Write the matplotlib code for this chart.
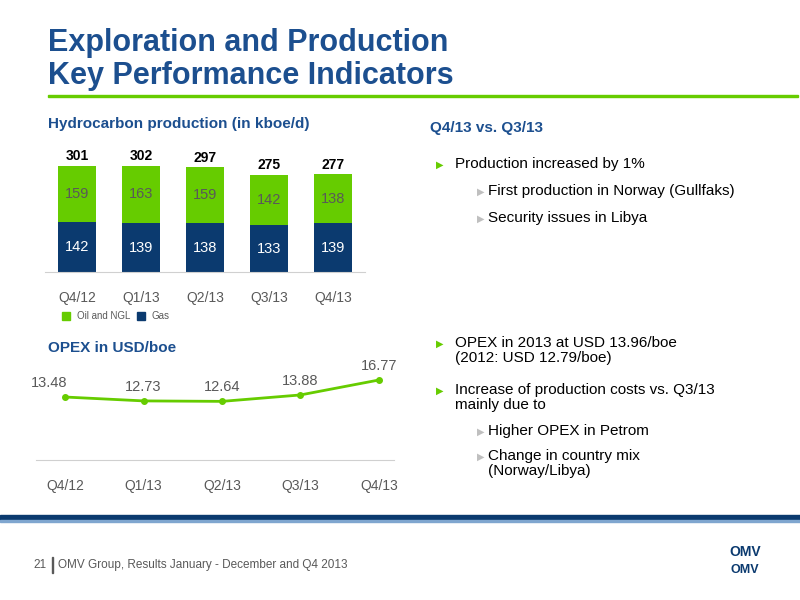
import matplotlib.pyplot as plt
from matplotlib.patches import Rectangle

plt.rcParams['font.family'] = ['Liberation Sans', 'DejaVu Sans']

quarters = ["Q4/12", "Q1/13", "Q2/13", "Q3/13", "Q4/13"]
gas = [142, 139, 138, 133, 139]
oil = [159, 163, 159, 142, 138]
totals = [301, 302, 297, 275, 277]
opex = [13.48, 12.73, 12.64, 13.88, 16.77]

navy = "#0b3a6f"
green = "#66cc00"
title_blue = "#1c4f8f"
grey = "#595959"

fig = plt.figure(figsize=(8, 6), dpi=100)

def fy(y):
    return 1 - y / 600

# title
fig.text(48 / 800, fy(43), "Exploration and Production", fontsize=22, fontweight="bold",
         color=title_blue, va="center")
fig.text(48 / 800, fy(76), "Key Performance Indicators", fontsize=22, fontweight="bold",
         color=title_blue, va="center")
fig.add_artist(Rectangle((48 / 800, fy(97)), 750 / 800, 2 / 600, color=green,
                         transform=fig.transFigure))

# bar chart
fig.text(48 / 800, fy(124), "Hydrocarbon production (in kboe/d)", fontsize=11,
         fontweight="bold", color=title_blue, va="center")
ax = fig.add_axes([45 / 800, fy(272), 320 / 800, 130 / 600])
x = range(len(quarters))
ax.bar(x, gas, width=0.58, color=navy)
ax.bar(x, oil, bottom=gas, width=0.58, color=green)
for i in x:
    ax.text(i, gas[i] / 2, str(gas[i]), ha="center", va="center", color="white", fontsize=10.5)
    ax.text(i, gas[i] + oil[i] / 2, str(oil[i]), ha="center", va="center", color=grey, fontsize=10.5)
    ax.text(i, totals[i] + 8, str(totals[i]), ha="center", va="bottom", color="black",
            fontsize=10, fontweight="bold")
ax.set_xlim(-0.5, 4.5)
ax.set_ylim(0, 369)
ax.set_xticks(list(x))
ax.set_xticklabels(quarters, color=grey, fontsize=10)
ax.tick_params(length=0, pad=14)
ax.set_yticks([])
for s in ["top", "right", "left"]:
    ax.spines[s].set_visible(False)
ax.spines["bottom"].set_color("#d0d0d0")

# legend
fig.add_artist(Rectangle((62 / 800, fy(320)), 8 / 800, 8 / 600, color=green, transform=fig.transFigure))
fig.text(77 / 800, fy(316), "Oil and NGL", fontsize=7, color=grey, va="center")
fig.add_artist(Rectangle((137 / 800, fy(320)), 8 / 800, 8 / 600, color=navy, transform=fig.transFigure))
fig.text(152 / 800, fy(316), "Gas", fontsize=7, color=grey, va="center")

# line chart
fig.text(48 / 800, fy(348), "OPEX in USD/boe", fontsize=11, fontweight="bold",
         color=title_blue, va="center")
ax2 = fig.add_axes([26 / 800, fy(460), 392 / 800, 100 / 600])
ax2.plot(list(x), opex, color=green, lw=2, marker="o", markersize=4)
for i in x:
    ax2.text(i - 0.2 if i == 0 else i, opex[i] + 1.4, f"{opex[i]:.2f}", ha="center",
             va="bottom", color=grey, fontsize=10.5)
ax2.set_xlim(-0.5, 4.5)
ax2.set_ylim(1.3, 1.3 + 100 / 5.17)
ax2.set_xticks(list(x))
ax2.set_xticklabels(quarters, color=grey, fontsize=10)
ax2.tick_params(length=0, pad=14)
ax2.set_yticks([])
for s in ["top", "right", "left"]:
    ax2.spines[s].set_visible(False)
ax2.spines["bottom"].set_color("#d0d0d0")
ax2.spines["bottom"].set_bounds(-0.37, 4.2)

# right text
fig.text(430 / 800, fy(128), "Q4/13 vs. Q3/13", fontsize=11, fontweight="bold",
         color=title_blue, va="center")
bullets = [
    (436, 455, 165, "Production increased by 1%", green),
    (477, 488, 192, "First production in Norway (Gullfaks)", "#bfbfbf"),
    (477, 488, 219, "Security issues in Libya", "#bfbfbf"),
    (436, 455, 344, "OPEX in 2013 at USD 13.96/boe\n(2012: USD 12.79/boe)", green),
    (436, 455, 391, "Increase of production costs vs. Q3/13\nmainly due to", green),
    (477, 488, 432, "Higher OPEX in Petrom", "#bfbfbf"),
    (477, 488, 457, "Change in country mix\n(Norway/Libya)", "#bfbfbf"),
]
for bx, tx, y, txt, c in bullets:
    fig.text(bx / 800, fy(y), "\u25B6", fontsize=7, color=c, va="center",
             family="DejaVu Sans")
    fig.text(tx / 800, fy(y - 8), txt, fontsize=11, color="black", va="top", linespacing=1.1)

# footer
fig.add_artist(Rectangle((0, fy(520)), 1, 5 / 600, color=navy, transform=fig.transFigure))
fig.add_artist(Rectangle((0, fy(522)), 1, 2 / 600, color="#7fa6cf", transform=fig.transFigure))
fig.text(33 / 800, fy(565), "21", fontsize=8.5, color=grey, va="center")
fig.add_artist(Rectangle((52 / 800, fy(573)), 1 / 800, 16 / 600, color=grey, transform=fig.transFigure))
fig.text(58 / 800, fy(565), "OMV Group, Results January - December and Q4 2013", fontsize=8.5,
         color=grey, va="center")
fig.text(745 / 800, fy(552), "OMV", fontsize=10, fontweight="bold", color=navy,
         ha="center", va="center")
fig.text(745 / 800, fy(570), "OMV", fontsize=9, fontweight="bold", color=navy,
         ha="center", va="center")

fig.savefig("out.png", dpi=100)
